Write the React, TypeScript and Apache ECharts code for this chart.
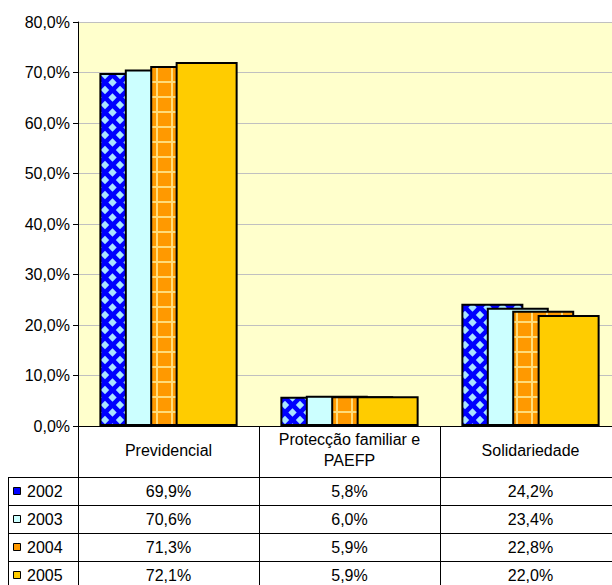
import React, { useEffect, useRef } from "react";
import * as echarts from "echarts";

// Chart data (percent of total spending per regime)
const categories = ["Previdencial", "Protecção familiar e\nPAEFP", "Solidariedade"];
const years = ["2002", "2003", "2004", "2005"];
const values2002 = [69.9, 5.8, 24.2];
const values2003 = [70.6, 6.0, 23.4];
const values2004 = [71.3, 5.9, 22.8];
const values2005 = [72.1, 5.9, 22.0];
const yearValues = [values2002, values2003, values2004, values2005];

// Y axis scale
const yMin = 0;
const yMax = 80;
const yStep = 10;

const FONT = "'Liberation Sans', Arial, sans-serif";
const fmt = (v: number) => v.toFixed(1).replace(".", ",") + "%";

// Layout
const GRID_LEFT = 78;
const GRID_TOP = 22;
const GRID_WIDTH = 543;
const GRID_HEIGHT = 404;
const HEADER_H = 51;
const ROW_H = 28;
const TABLE_LEFT = 8;

function diamondTile(): HTMLCanvasElement {
  const c = document.createElement("canvas");
  c.width = 15;
  c.height = 15;
  const g = c.getContext("2d")!;
  g.fillStyle = "#0000FF";
  g.fillRect(0, 0, 15, 15);
  g.fillStyle = "#A8E4FF";
  g.filter = "blur(0.5px)";
  const d = (cx: number, cy: number, r: number) => {
    g.beginPath();
    g.moveTo(cx, cy - r);
    g.lineTo(cx + r, cy);
    g.lineTo(cx, cy + r);
    g.lineTo(cx - r, cy);
    g.closePath();
    g.fill();
  };
  d(7.5, 7.5, 4.2);
  d(0, 0, 4.2);
  d(15, 0, 4.2);
  d(0, 15, 4.2);
  d(15, 15, 4.2);
  return c;
}

function plaidTile(): HTMLCanvasElement {
  const c = document.createElement("canvas");
  c.width = 15;
  c.height = 15;
  const g = c.getContext("2d")!;
  g.fillStyle = "#FF9900";
  g.fillRect(0, 0, 15, 15);
  g.fillStyle = "#FFDC7A";
  g.fillRect(6, 0, 2, 15);
  g.fillRect(0, 6, 15, 2);
  return c;
}

export default function App() {
  const ref = useRef<HTMLDivElement>(null);

  useEffect(() => {
    if (!ref.current) return;
    const chart = echarts.init(ref.current, null, { renderer: "svg" });

    const fills: any[] = [
      { image: diamondTile(), repeat: "repeat", imageWidth: 15, imageHeight: 15 },
      "#CCFFFF",
      { image: plaidTile(), repeat: "repeat", imageWidth: 15, imageHeight: 15 },
      "#FFCC00",
    ];
    const keyColors = ["#0000FF", "#CCFFFF", "#FF9900", "#FFCC00"];

    // Data table under the axis
    const catW = GRID_WIDTH / categories.length;
    const tableTop = GRID_TOP + GRID_HEIGHT + HEADER_H;
    const right = GRID_LEFT + GRID_WIDTH;
    const graphics: any[] = [];
    for (let r = 0; r <= years.length; r++) {
      const y = Math.round(tableTop + r * ROW_H) + 0.5;
      graphics.push({
        type: "line",
        shape: { x1: TABLE_LEFT + 0.5, y1: y, x2: right, y2: y },
        style: { stroke: "#000", lineWidth: 1 },
        silent: true,
      });
    }
    graphics.push({
      type: "line",
      shape: { x1: TABLE_LEFT + 0.5, y1: tableTop, x2: TABLE_LEFT + 0.5, y2: tableTop + ROW_H * years.length },
      style: { stroke: "#000", lineWidth: 1 },
      silent: true,
    });
    years.forEach((yr, r) => {
      const cy = tableTop + r * ROW_H + ROW_H / 2;
      graphics.push({
        type: "rect",
        shape: { x: 13.5, y: Math.round(cy - 4) + 0.5, width: 7, height: 7 },
        style: { fill: keyColors[r], stroke: "#000", lineWidth: 1 },
        silent: true,
      });
      graphics.push({
        type: "text",
        x: 27,
        y: cy,
        style: { text: yr, font: `16px ${FONT}`, fill: "#000", textAlign: "left", textVerticalAlign: "middle" },
        silent: true,
      });
      yearValues[r].forEach((v, c) => {
        graphics.push({
          type: "text",
          x: GRID_LEFT + catW * (c + 0.5),
          y: cy,
          style: { text: fmt(v), font: `16px ${FONT}`, fill: "#000", textAlign: "center", textVerticalAlign: "middle" },
          silent: true,
        });
      });
    });

    chart.setOption({
      animation: false,
      backgroundColor: "#FFFFFF",
      grid: {
        left: GRID_LEFT,
        top: GRID_TOP,
        width: GRID_WIDTH,
        height: GRID_HEIGHT,
        outerBoundsMode: "none",
        containLabel: false,
        show: true,
        backgroundColor: "#FFFFCC",
        borderWidth: 0,
      },
      xAxis: {
        type: "category",
        data: categories,
        axisLine: { show: true, lineStyle: { color: "#000", width: 1 } },
        axisTick: { show: true, interval: 0, length: HEADER_H + ROW_H * years.length, lineStyle: { color: "#000", width: 1 } },
        axisLabel: {
          interval: 0,
          margin: 24,
          verticalAlign: "middle",
          lineHeight: 21,
          color: "#000",
          fontSize: 16,
          fontFamily: FONT,
        },
      },
      yAxis: {
        type: "value",
        min: yMin,
        max: yMax,
        interval: yStep,
        axisLine: { show: true, lineStyle: { color: "#000", width: 1 } },
        axisTick: { show: true, length: 5, lineStyle: { color: "#000" } },
        axisLabel: { formatter: (v: number) => fmt(v), color: "#000", fontSize: 16, fontFamily: FONT, margin: 8 },
        splitLine: { show: true, lineStyle: { color: "#C0C0C0", width: 1 } },
      },
      series: years.map((yr, i) => ({
        name: yr,
        type: "bar",
        data: yearValues[i],
        barWidth: 62,
        barGap: "-59%",
        itemStyle: { color: fills[i], borderColor: "#000", borderWidth: 2 },
      })),
      graphic: graphics,
    });

    return () => chart.dispose();
  }, []);

  return <div ref={ref} style={{ position: "fixed", left: 0, top: 0, width: 612, height: 585 }} />;
}
